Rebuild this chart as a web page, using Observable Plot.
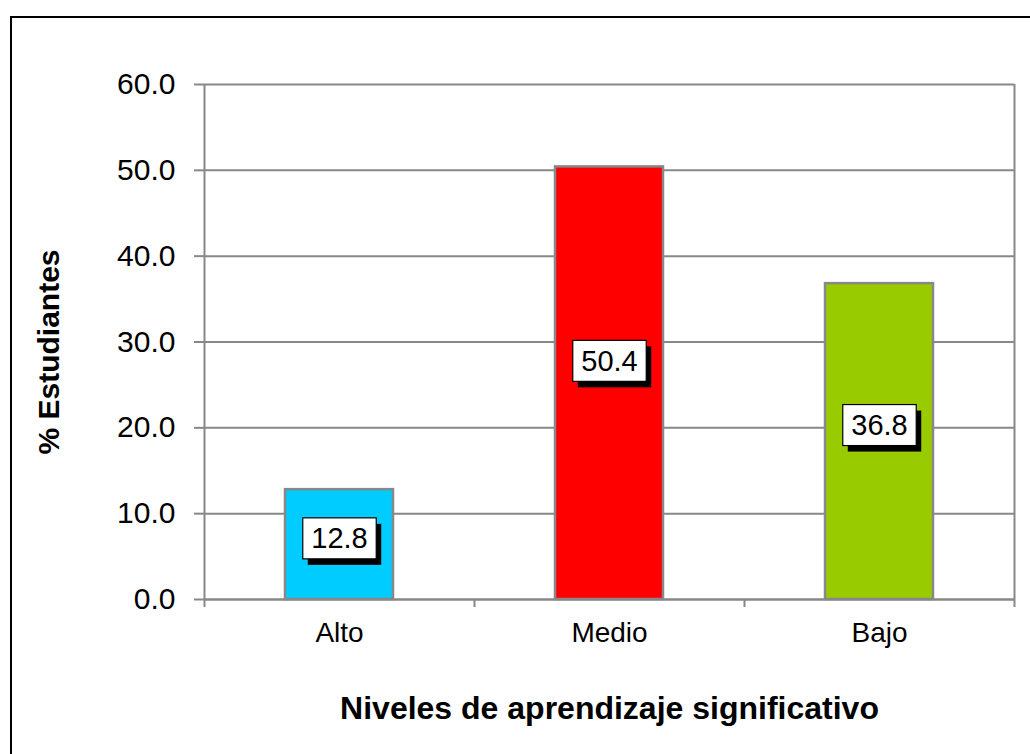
<!DOCTYPE html>
<html>
<head>
<meta charset="utf-8">
<script src="https://cdn.jsdelivr.net/npm/d3@7"></script>
<script src="https://cdn.jsdelivr.net/npm/@observablehq/plot@0.6"></script>
<style>
  html, body { margin: 0; padding: 0; overflow: hidden; background: white; }
  #wrap { position: relative; width: 1030px; height: 754px; overflow: hidden; }
  #frame { position: absolute; left: 10px; top: 16px; width: 1100px; height: 800px;
           border: 2px solid black; z-index: 2; pointer-events: none; }
  #chart { position: absolute; left: 0; top: 0; }
</style>
</head>
<body>
<div id="wrap"><div id="frame"></div><div id="chart"></div></div>
<script>
const categories = ["Alto", "Medio", "Bajo"];
const values = [12.8, 50.4, 36.8];
const colors = ["#00CCFF", "#FF0000", "#99CC00"];
const yTicks = [0, 10, 20, 30, 40, 50, 60];
const yTitle = "% Estudiantes";
const xTitle = "Niveles de aprendizaje significativo";

const data = categories.map((c, i) => ({ i, category: c, value: values[i], color: colors[i] }));
const font = "'Liberation Sans', Arial, sans-serif";
const grid = "#888888";
const labelTexts = new Set(values.map(v => v.toFixed(1)));

const chart = Plot.plot({
  width: 1030,
  height: 754,
  marginLeft: 204,
  marginRight: 16,
  marginTop: 84,
  marginBottom: 155,
  style: { fontFamily: font, background: "transparent", color: "black" },
  x: { type: "linear", domain: [0, categories.length] },
  y: { domain: [0, 60] },
  marks: [
    Plot.gridY(yTicks, { stroke: grid, strokeOpacity: 1, strokeWidth: 2 }),
    Plot.ruleX([0, categories.length], { stroke: grid, strokeWidth: 2 }),
    Plot.axisY(yTicks, {
      tickSize: 10, tickPadding: 19, stroke: grid, strokeWidth: 2,
      fill: "black", fontSize: 30, tickFormat: d => d.toFixed(1), label: null
    }),
    Plot.axisX(d3.range(categories.length + 1), {
      tickSize: 8, stroke: grid, strokeWidth: 2, tickFormat: () => "", label: null
    }),
    Plot.axisX(categories.map((c, i) => i + 0.5), {
      tickSize: 0, tickPadding: 23, fontSize: 28, fill: "black",
      tickFormat: d => categories[Math.floor(d)], label: null
    }),
    Plot.rectY(data, {
      x1: d => d.i + 0.3, x2: d => d.i + 0.7, y1: 0, y2: "value",
      fill: "color", stroke: grid, strokeWidth: 2.5
    }),
    Plot.ruleY([0], { stroke: grid, strokeWidth: 2 }),
    Plot.text(data, {
      x: d => d.i + 0.5, y: d => d.value * 0.55,
      text: d => d.value.toFixed(1), fontSize: 29, fill: "black"
    }),
    Plot.text([yTitle], {
      frameAnchor: "left", textAnchor: "middle", dx: -155, dy: 10, rotate: -90,
      fontSize: 30, fontWeight: "bold", fill: "black"
    }),
    Plot.text([xTitle], {
      frameAnchor: "bottom", dy: 119,
      fontSize: 32, fontWeight: "bold", fill: "black"
    })
  ]
});

document.getElementById("chart").appendChild(chart);

// white label boxes with drop shadow behind the value labels
const ns = "http://www.w3.org/2000/svg";
Array.from(chart.querySelectorAll("text"))
  .filter(t => labelTexts.has(t.textContent.trim()))
  .forEach(t => {
    const b = t.getBBox();
    const padX = 8.5, padY = 4.5;
    const w = b.width + 2 * padX, h = b.height + 2 * padY;
    const x = b.x - padX, y = b.y - padY;
    const mk = (dx, dy, fill, stroke) => {
      const r = document.createElementNS(ns, "rect");
      r.setAttribute("x", x + dx); r.setAttribute("y", y + dy);
      r.setAttribute("width", w); r.setAttribute("height", h);
      r.setAttribute("fill", fill);
      if (stroke) { r.setAttribute("stroke", stroke); r.setAttribute("stroke-width", 1.2); }
      const tr = t.getAttribute("transform");
      if (tr) r.setAttribute("transform", tr);
      return r;
    };
    t.parentNode.insertBefore(mk(5, 6, "black"), t);
    t.parentNode.insertBefore(mk(0, 0, "white", "black"), t);
  });
</script>
</body>
</html>
